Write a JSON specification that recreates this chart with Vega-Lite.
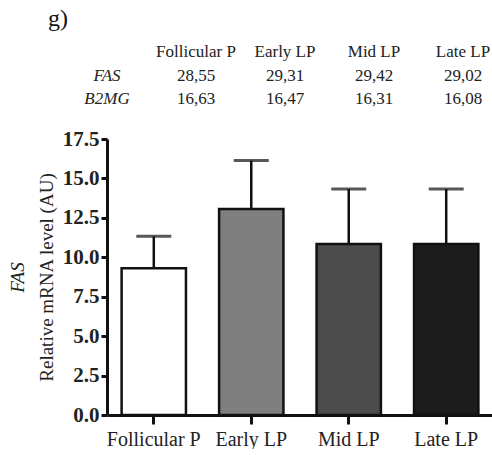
{
  "$schema": "https://vega.github.io/schema/vega-lite/v6.json",
  "padding": {"left": 8, "top": 7, "right": 0, "bottom": 0},
  "title": {
    "text": "g)",
    "anchor": "start",
    "dx": 40,
    "font": "'Liberation Serif', 'Times New Roman', serif",
    "fontSize": 24,
    "fontWeight": "normal",
    "color": "#111111",
    "offset": 12
  },
  "config": {
    "view": {"stroke": null},
    "font": "'Liberation Serif', 'Times New Roman', serif",
    "text": {"font": "'Liberation Serif', 'Times New Roman', serif"},
    "axis": {
      "domainColor": "#111111",
      "tickColor": "#111111",
      "labelColor": "#222222",
      "titleColor": "#222222",
      "labelFont": "'Liberation Serif', 'Times New Roman', serif",
      "titleFont": "'Liberation Serif', 'Times New Roman', serif",
      "grid": false
    }
  },
  "spacing": 21,
  "datasets": {
    "ct": [
      {"row": "header", "col": "Follicular P", "value": "Follicular P"},
      {"row": "header", "col": "Early LP", "value": "Early LP"},
      {"row": "header", "col": "Mid LP", "value": "Mid LP"},
      {"row": "header", "col": "Late LP", "value": "Late LP"},
      {"row": "FAS", "col": "gene", "value": "FAS"},
      {"row": "FAS", "col": "Follicular P", "value": "28,55"},
      {"row": "FAS", "col": "Early LP", "value": "29,31"},
      {"row": "FAS", "col": "Mid LP", "value": "29,42"},
      {"row": "FAS", "col": "Late LP", "value": "29,02"},
      {"row": "B2MG", "col": "gene", "value": "B2MG"},
      {"row": "B2MG", "col": "Follicular P", "value": "16,63"},
      {"row": "B2MG", "col": "Early LP", "value": "16,47"},
      {"row": "B2MG", "col": "Mid LP", "value": "16,31"},
      {"row": "B2MG", "col": "Late LP", "value": "16,08"}
    ],
    "expr": [
      {"phase": "Follicular P", "mean": 9.3, "upper": 11.33},
      {"phase": "Early LP", "mean": 13.06, "upper": 16.13},
      {"phase": "Mid LP", "mean": 10.84, "upper": 14.33},
      {"phase": "Late LP", "mean": 10.84, "upper": 14.33}
    ]
  },
  "vconcat": [
    {
      "width": 356,
      "height": 47,
      "data": {"name": "ct"},
      "encoding": {
        "x": {
          "field": "col",
          "type": "nominal",
          "scale": {
            "type": "point",
            "domain": ["gene", "Follicular P", "Early LP", "Mid LP", "Late LP"],
            "padding": 0
          },
          "axis": null
        },
        "y": {
          "field": "row",
          "type": "nominal",
          "scale": {"type": "point", "domain": ["header", "FAS", "B2MG"], "padding": 0},
          "axis": null
        },
        "text": {"field": "value"}
      },
      "layer": [
        {
          "transform": [{"filter": "datum.col !== 'gene'"}],
          "mark": {"type": "text", "fontSize": 17, "color": "#222222", "baseline": "middle"}
        },
        {
          "transform": [{"filter": "datum.col === 'gene'"}],
          "mark": {"type": "text", "fontSize": 17, "fontStyle": "italic", "color": "#222222", "baseline": "middle"}
        }
      ]
    },
    {
      "width": 386,
      "height": 276,
      "data": {"name": "expr"},
      "encoding": {
        "x": {
          "field": "phase",
          "type": "nominal",
          "sort": null,
          "scale": {
            "type": "band",
            "domain": ["Follicular P", "Early LP", "Mid LP", "Late LP"],
            "paddingInner": 0.34,
            "paddingOuter": 0.15
          },
          "axis": {
            "title": null,
            "labelAngle": 0,
            "labelFontSize": 20,
            "labelPadding": 5,
            "tickSize": 9,
            "tickWidth": 3,
            "domainWidth": 3
          }
        }
      },
      "layer": [
        {
          "mark": {"type": "bar", "stroke": "#111111", "strokeWidth": 2.5},
          "encoding": {
            "y": {
              "field": "mean",
              "type": "quantitative",
              "scale": {"domain": [0, 17.5], "nice": false},
              "axis": {
                "title": "Relative mRNA level (AU)",
                "values": [0, 2.5, 5, 7.5, 10, 12.5, 15, 17.5],
                "format": ".1f",
                "labelFontSize": 21,
                "labelFontWeight": "bold",
                "labelPadding": 2,
                "tickSize": 6,
                "tickWidth": 3,
                "domainWidth": 3,
                "titleFontSize": 19,
                "titleFontWeight": "normal",
                "titlePadding": 6
              }
            },
            "fill": {
              "field": "phase",
              "type": "nominal",
              "scale": {
                "domain": ["Follicular P", "Early LP", "Mid LP", "Late LP"],
                "range": ["#ffffff", "#7f7f7f", "#4c4c4c", "#1c1c1c"]
              },
              "legend": null
            }
          }
        },
        {
          "mark": {"type": "rule", "color": "#111111", "strokeWidth": 2.5},
          "encoding": {
            "y": {
              "field": "mean",
              "type": "quantitative",
              "scale": {"domain": [0, 17.5], "nice": false},
              "axis": {
                "orient": "left",
                "offset": 76,
                "title": "FAS",
                "titleFontStyle": "italic",
                "titleFontSize": 19,
                "titleFontWeight": "normal",
                "titlePadding": 4,
                "labels": false,
                "ticks": false,
                "domain": false
              }
            },
            "y2": {"field": "upper"}
          }
        },
        {
          "mark": {"type": "tick", "color": "#111111", "thickness": 3, "size": 35},
          "encoding": {
            "y": {
              "field": "upper",
              "type": "quantitative",
              "scale": {"domain": [0, 17.5], "nice": false},
              "axis": null
            }
          }
        }
      ],
      "resolve": {"scale": {"y": "independent"}}
    }
  ]
}
